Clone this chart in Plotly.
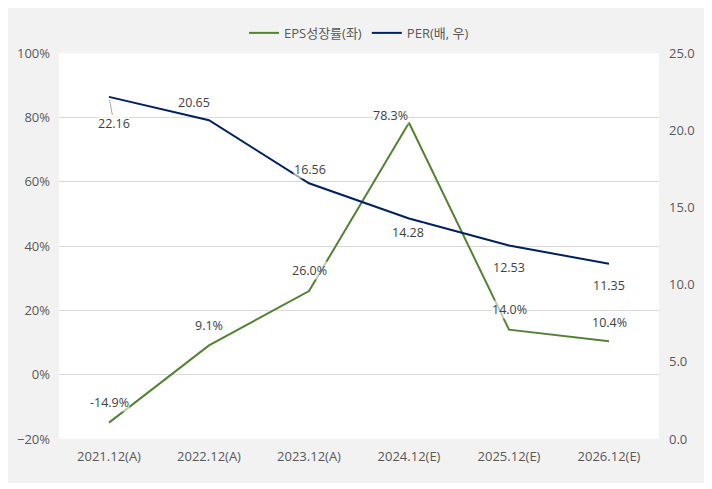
import plotly.graph_objects as go

categories = ["2021.12(A)", "2022.12(A)", "2023.12(A)", "2024.12(E)", "2025.12(E)", "2026.12(E)"]
eps_growth = [-14.9, 9.1, 26.0, 78.3, 14.0, 10.4]
per = [22.16, 20.65, 16.56, 14.28, 12.53, 11.35]
eps_labels = ["-14.9%", "9.1%", "26.0%", "78.3%", "14.0%", "10.4%"]
per_labels = ["22.16", "20.65", "16.56", "14.28", "12.53", "11.35"]

# label offsets (px) relative to points
eps_off = [(0, 20), (0, 20), (0, 21), (-19, 7), (0, 20), (0, 19)]
per_off = [(5, -27), (-15, 18), (1, 14), (-1, -14), (0, -22), (0, -22)]

FONT = "Open Sans, Noto Sans CJK KR, sans-serif"
GREEN = "#548235"
NAVY = "#002060"
LBL = dict(family=FONT, size=12.5, color="#404040")

fig = go.Figure()
fig.add_trace(go.Scatter(x=categories, y=eps_growth, name="EPS성장률(좌)", mode="lines",
                         line=dict(color=GREEN, width=2), yaxis="y"))
fig.add_trace(go.Scatter(x=categories, y=per, name="PER(배, 우)", mode="lines",
                         line=dict(color=NAVY, width=2), yaxis="y2"))

ann = []
for c, v, t, (dx, dy) in zip(categories, eps_growth, eps_labels, eps_off):
    ann.append(dict(x=c, y=v, xref="x", yref="y", text=t, showarrow=False,
                    xshift=dx, yshift=dy, font=LBL,
                    bgcolor="rgba(255,255,255,0.6)", borderpad=0))
for i, (c, v, t, (dx, dy)) in enumerate(zip(categories, per, per_labels, per_off)):
    if i == 0:
        ann.append(dict(x=c, y=v, xref="x", yref="y2", text=t, showarrow=True,
                        ax=dx, ay=-dy, arrowhead=0, arrowwidth=1, arrowcolor="#a6a6a6",
                        standoff=3, font=LBL,
                        bgcolor="rgba(255,255,255,0.6)", borderpad=0))
    else:
        ann.append(dict(x=c, y=v, xref="x", yref="y2", text=t, showarrow=False,
                        xshift=dx, yshift=dy, font=LBL,
                        bgcolor="rgba(255,255,255,0.6)", borderpad=0))

fig.update_layout(
    width=704, height=481,
    margin=dict(l=51, r=53, t=45, b=50, autoexpand=False),
    paper_bgcolor="white", plot_bgcolor="white",
    font=dict(family=FONT, size=13, color="#595959"),
    showlegend=True,
    legend=dict(orientation="h", x=0.5, xanchor="center", y=1.052, yanchor="middle",
                bgcolor="rgba(0,0,0,0)", font=dict(family=FONT, size=13, color="#595959"),
                itemwidth=30, tracegroupgap=0),
    xaxis=dict(type="category", range=[-0.5, 5.5], showgrid=False, showline=False,
               ticks="", tickfont=dict(size=13, color="#595959"), ticklabelstandoff=8,
               automargin=False),
    yaxis=dict(range=[-20, 100], dtick=20, ticksuffix="%", showgrid=True, gridcolor="#d9d9d9",
               gridwidth=1, zeroline=False, showline=False, ticks="",
               tickfont=dict(size=13, color="#595959"), ticklabelstandoff=8, automargin=False),
    yaxis2=dict(range=[0, 25], dtick=5, tickformat=".1f", overlaying="y", side="right",
                showgrid=False, zeroline=False, showline=False, ticks="",
                tickfont=dict(size=13, color="#595959"), ticklabelstandoff=9, automargin=False),
    annotations=ann,
    shapes=[
        dict(type="rect", xref="paper", yref="paper", x0=-0.085, x1=1.08, y0=-0.114, y1=1.1166,
             fillcolor="#f2f2f2", line=dict(width=0), layer="below"),
        dict(type="rect", xref="paper", yref="paper", x0=0, x1=1, y0=0, y1=1,
             fillcolor="white", line=dict(width=0), layer="below"),
    ],
)

fig.write_html("out.html")
